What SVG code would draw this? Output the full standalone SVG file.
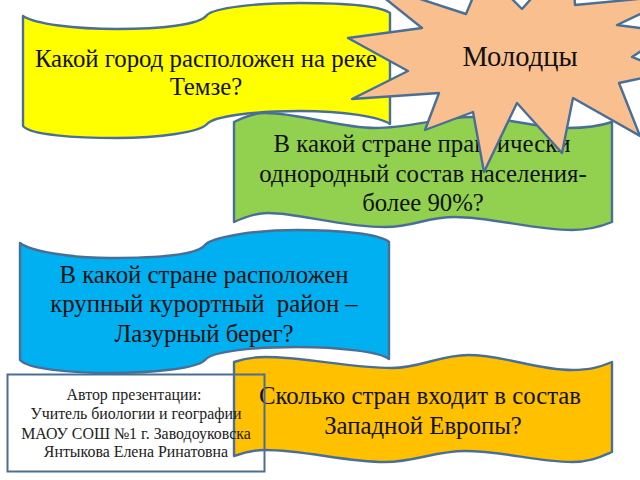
<svg xmlns="http://www.w3.org/2000/svg" width="640" height="480" viewBox="0 0 640 480">
<style>
.s{stroke:#4a6f96;stroke-width:2.4;stroke-linejoin:round}
text{font-family:"Liberation Serif","Times New Roman",serif;fill:#111;text-anchor:middle}
.t{font-size:24.8px}
.a{font-size:15.9px;fill:#222}
</style>
<rect width="640" height="480" fill="#fff"/>
<g id="node-yellow">
<path class="s" fill="#ffff00" d="M23,16 C35,24 75,29 117,29 C160,29 200,25 207,15 C214,8 255,3 300,3 C345,3 380,6 390,13 L390,124 C380,117 345,111 300,111 C255,111 214,116 207,124 C200,132 160,138 117,138 C75,138 30,135 23,126 Z"/>
<text class="t" x="206" y="66.5">Какой город расположен на реке</text>
<text class="t" x="206" y="95">Темзе?</text>
</g>
<g id="node-green">
<path class="s" fill="#92d050" d="M234,122 C246,116 255,113 265,113 C300,113 340,128 375,128 C410,128 440,117 472,117 C505,117 535,128 568,128 C585,128 600,126 612,122 L612,222 C600,227 588,230 572,230 C535,230 490,217 455,217 C425,217 415,227 385,227 C340,227 300,213 268,213 C255,213 245,217 234,222 Z"/>
<text class="t" x="422" y="152">В какой стране практически</text>
<text class="t" x="423" y="182">однородный состав населения-</text>
<text class="t" x="423" y="211">более 90%?</text>
</g>
<g id="node-blue">
<path class="s" fill="#00b0f0" d="M20,243 C30,251 70,258 110,258 C155,258 198,255 205,245 C212,237 255,230 297,230 C340,230 380,234 389,242 L389,359 C380,352 340,347 297,347 C255,347 212,351 205,360 C198,368 155,373 110,373 C70,373 28,369 20,360 Z"/>
<text class="t" x="204" y="283">В какой стране расположен</text>
<text class="t" x="204" y="312" xml:space="preserve">крупный курортный  район –</text>
<text class="t" x="204" y="342">Лазурный берег?</text>
</g>
<g id="node-orange">
<path class="s" fill="#ffc000" d="M234,362 C245,358 255,357 265,357 C305,357 350,368 392,368 C420,368 440,355 468,355 C505,355 535,370 572,370 C590,370 600,367 612,362 L612,452 C600,457 590,462 572,462 C535,462 505,451 465,451 C435,451 415,462 385,462 C345,462 305,450 265,450 C255,450 245,452 234,456 Z"/>
<text class="t" x="420" y="404">Сколько стран входит в состав</text>
<text class="t" x="423" y="434">Западной Европы?</text>
</g>
<g id="node-star">
<path class="s" fill="#fabf8f" d="M348,38 L422,28 L362,-20 L466,14 L484,-29 L522,9 L572,-47 L575,5 L680,-5 L617,25 L670,32 L632,57 L670,72 L619,83 L640,136 L573,98 L562,153 L517,103 L484,172 L473,112 L425,130 L439,93 L352,99 L408,71 Z"/>
<text x="520" y="66" font-size="28.5">Молодцы</text>
</g>
<g id="node-author">
<rect x="7.5" y="374.5" width="257" height="97" fill="none" stroke="#4a6f96" stroke-width="2"/>
<text class="a" x="134" y="400">Автор презентации:</text>
<text class="a" x="136" y="419">Учитель биологии и географии</text>
<text class="a" x="136" y="439">МАОУ СОШ №1 г. Заводоуковска</text>
<text class="a" x="136" y="457">Янтыкова Елена Ринатовна</text>
</g>
</svg>
